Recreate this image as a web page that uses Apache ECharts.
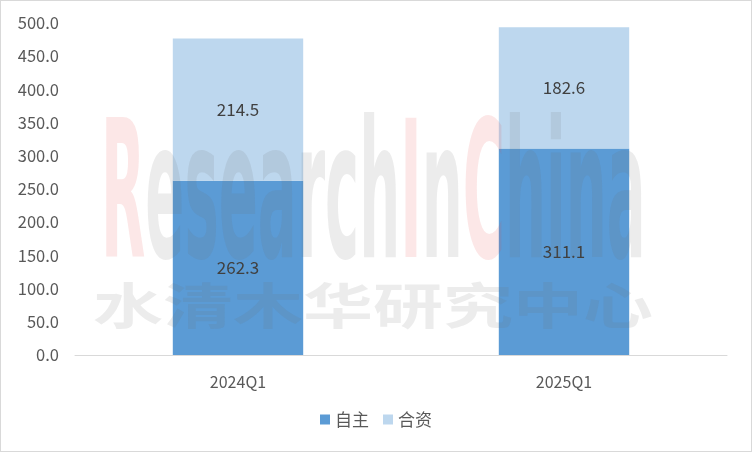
<!DOCTYPE html>
<html><head><meta charset="utf-8">
<script src="https://cdn.jsdelivr.net/npm/echarts@6/dist/echarts.min.js"></script>
<style>html,body{margin:0;padding:0;background:#fff}#c{width:750px;height:450px;border:1px solid #d9d9d9}</style>
</head><body><div id="c"></div>
<script>
const categories = ['2024Q1', '2025Q1'];
const ownBrand = [262.3, 311.1];
const jointVenture = [214.5, 182.6];
const seriesNames = ['自主', '合资'];

const chart = echarts.init(document.getElementById('c'));
const font = '"Microsoft YaHei", "Noto Sans CJK SC", "Open Sans", sans-serif';
const wmFont = '"DejaVu Sans", sans-serif';
const red = 'rgba(230,70,70,0.13)', gray = 'rgba(110,110,110,0.13)';
const rs = c => ({ fontSize: 200, fontWeight: 'bold', fontFamily: wmFont, fill: c });
chart.setOption({
  animation: false,
  textStyle: { fontFamily: font },
  grid: { left: 74, right: 24, top: 22, bottom: 96 },
  legend: {
    bottom: 18, left: 'center', itemWidth: 10, itemHeight: 10, itemGap: 14, itemStyle: {},
    icon: 'rect',
    textStyle: { fontSize: 17, color: '#595959', fontFamily: font },
    data: seriesNames
  },
  xAxis: {
    type: 'category', data: categories,
    axisLine: { lineStyle: { color: '#d9d9d9', width: 1 } },
    axisTick: { show: false },
    axisLabel: { fontSize: 16, color: '#595959', margin: 19 }
  },
  yAxis: {
    type: 'value', min: 0, max: 500, interval: 50,
    splitLine: { show: false },
    axisLine: { show: false }, axisTick: { show: false },
    axisLabel: { fontSize: 16.5, color: '#595959', margin: 16, formatter: v => v.toFixed(1) }
  },
  series: [
    { name: seriesNames[0], type: 'bar', stack: 's', data: ownBrand, barWidth: '40%',
      itemStyle: { color: '#5B9BD5' },
      label: { show: true, position: 'inside', fontSize: 17, color: '#404040', formatter: p => p.value.toFixed(1) } },
    { name: seriesNames[1], type: 'bar', stack: 's', data: jointVenture, barWidth: '40%',
      itemStyle: { color: '#BDD7EE' },
      label: { show: true, position: 'inside', fontSize: 17, color: '#404040', formatter: p => p.value.toFixed(1) } }
  ],
  graphic: [
    { type: 'text', x: 100, y: 112, scaleX: 0.288, scaleY: 0.95, z: 100, silent: true,
      style: {
        text: '{r|R}{g|esearch}{r|I}{g|n}{r|C}{g|hina}',
        rich: { r: rs(red), g: rs(gray) },
        textVerticalAlign: 'top'
      } },
    { type: 'text', x: 92, y: 280, scaleY: 0.7, z: 100, silent: true,
      style: { text: '水清木华研究中心', fontSize: 70, fontWeight: 'bold', fontFamily: '"Noto Sans CJK SC", sans-serif', fill: 'rgba(110,110,110,0.13)', textVerticalAlign: 'top' } }
  ]
});
</script></body></html>
